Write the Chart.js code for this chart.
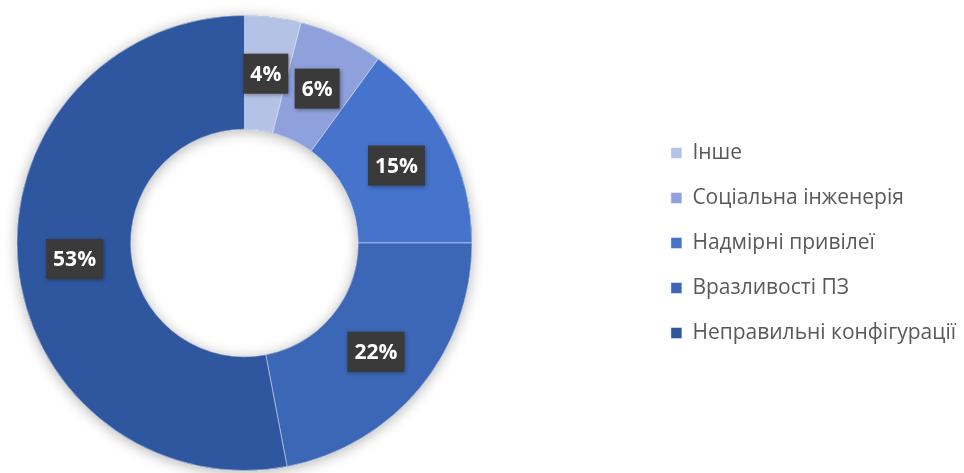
<!DOCTYPE html>
<html>
<head>
<meta charset="utf-8">
<script src="https://cdn.jsdelivr.net/npm/chart.js@4.4.1/dist/chart.umd.min.js"></script>
<style>
  html, body { margin: 0; padding: 0; background: #ffffff; overflow: hidden; }
  #wrap { width: 964px; height: 473px; position: relative; overflow: hidden; }
  #c { position: absolute; left: -158px; top: 0; }
</style>
</head>
<body>
<div id="wrap"><canvas id="c" width="1124" height="473"></canvas></div>
<script>
const categories = ['Інше', 'Соціальна інженерія', 'Надмірні привілеї', 'Вразливості ПЗ', 'Неправильні конфігурації'];
const shares = [4, 6, 15, 22, 53];
const sliceColors = ['#b4c2e6', '#8fa1dc', '#4673cb', '#3c67b6', '#2f57a0'];

const ringShadow = {
  id: 'ringShadow',
  beforeDatasetsDraw(chart) {
    const meta = chart.getDatasetMeta(0);
    const a = meta.data[0];
    if (!a) return;
    const ctx = chart.ctx;
    ctx.save();
    ctx.shadowColor = 'rgba(0,0,0,0.3)';
    ctx.shadowBlur = 14;
    ctx.shadowOffsetY = 2;
    ctx.fillStyle = '#2f57a0';
    ctx.beginPath();
    ctx.arc(a.x, a.y, a.outerRadius, 0, Math.PI * 2);
    ctx.arc(a.x, a.y, a.innerRadius, 0, Math.PI * 2, true);
    ctx.fill();
    ctx.restore();
  }
};

const boxLabels = {
  id: 'boxLabels',
  afterDatasetsDraw(chart) {
    const ctx = chart.ctx;
    const meta = chart.getDatasetMeta(0);
    const vals = chart.data.datasets[0].data;
    const total = vals.reduce((s, v) => s + v, 0);
    ctx.save();
    ctx.font = 'bold 21px "Open Sans", "Noto Sans", sans-serif';
    ctx.textAlign = 'center';
    ctx.textBaseline = 'middle';
    meta.data.forEach((arc, i) => {
      const p = arc.tooltipPosition();
      const txt = Math.round(vals[i] / total * 100) + '%';
      const w = ctx.measureText(txt).width + 14;
      const h = 40;
      ctx.save();
      ctx.shadowColor = 'rgba(0,0,0,0.35)';
      ctx.shadowBlur = 4;
      ctx.shadowOffsetX = 1;
      ctx.shadowOffsetY = 1;
      ctx.fillStyle = '#3a3a3a';
      ctx.fillRect(p.x - w / 2, p.y - h / 2, w, h);
      ctx.restore();
      ctx.fillStyle = '#ffffff';
      ctx.fillText(txt, p.x, p.y + 1);
    });
    ctx.restore();
  }
};

new Chart(document.getElementById('c'), {
  type: 'doughnut',
  data: {
    labels: categories,
    datasets: [{
      data: shares,
      backgroundColor: sliceColors,
      borderColor: 'rgba(255,255,255,0.45)',
      borderWidth: 1
    }]
  },
  options: {
    responsive: false,
    animation: false,
    cutout: '50%',
    layout: { padding: { left: 0, right: 0, top: 15, bottom: 2 } },
    plugins: {
      tooltip: { enabled: false },
      legend: {
        position: 'right',
        align: 'center',
        labels: {
          boxWidth: 11,
          boxHeight: 11,
          padding: 24,
          color: '#595959',
          font: { size: 21, family: '"Open Sans", "Noto Sans", sans-serif' }
        }
      }
    }
  },
  plugins: [ringShadow, boxLabels]
});
</script>
</body>
</html>
